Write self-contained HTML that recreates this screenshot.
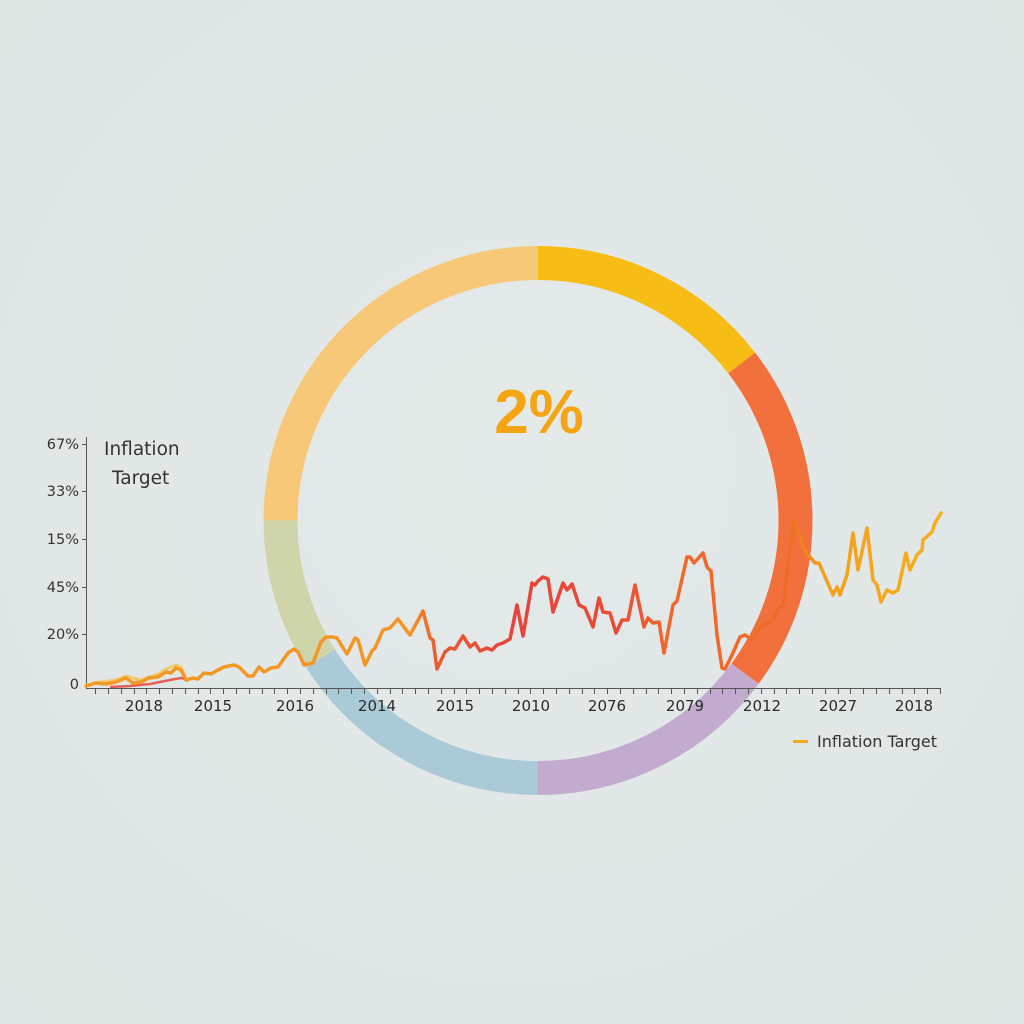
<!DOCTYPE html>
<html><head><meta charset="utf-8"><style>
html,body{margin:0;padding:0;background:#e2e8e7;}
svg{display:block;}
text{font-family:"DejaVu Sans","Liberation Sans",sans-serif;}
</style></head><body>
<svg width="1024" height="1024" viewBox="0 0 1024 1024" xmlns="http://www.w3.org/2000/svg">
<defs>
<radialGradient id="bg" cx="50%" cy="45%" r="75%">
<stop offset="0" stop-color="#e4eae9"/><stop offset="1" stop-color="#dfe5e4"/>
</radialGradient>
<linearGradient id="lg" gradientUnits="userSpaceOnUse" x1="86" y1="0" x2="942" y2="0">
<stop offset="0" stop-color="#f39a26"/>
<stop offset="0.38" stop-color="#f39424"/>
<stop offset="0.41" stop-color="#ea5a30"/>
<stop offset="0.50" stop-color="#e8433a"/>
<stop offset="0.62" stop-color="#e94c36"/>
<stop offset="0.68" stop-color="#f0682c"/>
<stop offset="0.82" stop-color="#f06a26"/>
<stop offset="0.86" stop-color="#f4a01c"/>
<stop offset="1" stop-color="#f6b01a"/>
</linearGradient>
</defs>
<rect width="1024" height="1024" fill="url(#bg)"/>

<!-- ring -->
<g fill="none" stroke-width="34" stroke-linecap="butt">
<path d="M280.5,520.5 A257.5,257.5 0 0 1 538,263" stroke="#f6c878"/>
<path d="M538,263 A257.5,257.5 0 0 1 741.7,363" stroke="#f7bd14"/>
<path d="M741.7,363 A257.5,257.5 0 0 1 745,673.7" stroke="#f2703c"/>
<path d="M745,673.7 A257.5,257.5 0 0 1 538,778" stroke="#c3abcf"/>
<path d="M538,778 A257.5,257.5 0 0 1 320.6,658.5" stroke="#aacad7"/>
<path d="M320.6,658.5 A257.5,257.5 0 0 1 280.5,520.5" stroke="#cfd5ab"/>
</g>

<text x="539" y="433" text-anchor="middle" font-size="62" font-weight="bold" fill="#f5a412" style="font-family:'Liberation Sans',sans-serif">2%</text>

<!-- axes -->
<g stroke="#555" stroke-width="1">
<line x1="86.5" y1="437" x2="86.5" y2="688"/>
<line x1="86" y1="688.5" x2="941" y2="688.5"/>
<line x1="82" y1="444.5" x2="86" y2="444.5"/>
<line x1="82" y1="491.5" x2="86" y2="491.5"/>
<line x1="82" y1="539.5" x2="86" y2="539.5"/>
<line x1="82" y1="587.5" x2="86" y2="587.5"/>
<line x1="82" y1="634.5" x2="86" y2="634.5"/>
</g>
<path fill="none" stroke="#555" stroke-width="1" d="M940.5,688v6M927.5,688v6M914.5,688v6M902.5,688v6M889.5,688v6M876.5,688v6M863.5,688v6M850.5,688v6M838.5,688v6M825.5,688v6M812.5,688v6M799.5,688v6M786.5,688v6M774.5,688v6M761.5,688v6M748.5,688v6M735.5,688v6M722.5,688v6M710.5,688v6M697.5,688v6M684.5,688v6M671.5,688v6M658.5,688v6M646.5,688v6M633.5,688v6M620.5,688v6M607.5,688v6M594.5,688v6M582.5,688v6M569.5,688v6M556.5,688v6M543.5,688v6M530.5,688v6M518.5,688v6M505.5,688v6M492.5,688v6M479.5,688v6M466.5,688v6M454.5,688v6M441.5,688v6M428.5,688v6M415.5,688v6M402.5,688v6M390.5,688v6M377.5,688v6M364.5,688v6M351.5,688v6M338.5,688v6M326.5,688v6M313.5,688v6M300.5,688v6M287.5,688v6M274.5,688v6M262.5,688v6M249.5,688v6M236.5,688v6M223.5,688v6M210.5,688v6M198.5,688v6M185.5,688v6M172.5,688v6M159.5,688v6M146.5,688v6M134.5,688v6M121.5,688v6M108.5,688v6M95.5,688v6"/>

<g font-size="14.5" fill="#333" text-anchor="end">
<text x="79" y="449">67%</text>
<text x="79" y="496">33%</text>
<text x="79" y="544">15%</text>
<text x="79" y="592">45%</text>
<text x="79" y="639">20%</text>
<text x="79" y="689">0</text>
</g>
<text x="104" y="455" font-size="18.5" fill="#333">Inflation</text>
<text x="112" y="484" font-size="18.5" fill="#333">Target</text>

<g font-size="15" fill="#2a2a2a" text-anchor="middle">
<text x="144" y="711">2018</text>
<text x="213" y="711">2015</text>
<text x="295" y="711">2016</text>
<text x="377" y="711">2014</text>
<text x="455" y="711">2015</text>
<text x="531" y="711">2010</text>
<text x="607" y="711">2076</text>
<text x="685" y="711">2079</text>
<text x="762" y="711">2012</text>
<text x="838" y="711">2027</text>
<text x="914" y="711">2018</text>
</g>

<!-- secondary faint lines -->
<polyline fill="none" stroke="#f6c03a" stroke-width="3" stroke-linejoin="round" opacity="0.7"
points="86,685 100,682 116,680 126,676 141,680 158,674 166,669 176,665 181,667 186,678"/>
<polyline fill="none" stroke="#e5483a" stroke-width="2.5" stroke-linejoin="round" opacity="0.85"
points="110,687 130,686 150,684 165,681 175,679 182,678 188,681"/>

<!-- main line -->
<polyline fill="none" stroke="url(#lg)" stroke-width="3.5" stroke-linejoin="round" stroke-linecap="round"
points="86,686 96,683 106,684 116,682 126,678 133,683 141,682 149,678 158,677 166,672 171,673 176,668 181,670 186,680 193,678 198,679 204,673 211,674 218,670 224,667 234,665 239,667 248,676 253,676 259,667 264,672 271,668 278,667 288,653 294,649 298,652 304,665 313,663 321,642 326,637 333,637 337,638 347,654 355,638 358,640 365,665 372,651 375,648 383,630 390,628 398,619 410,635 423,611 430,638 433,640 437,669 445,652 450,648 455,649 463,636 470,647 475,643 480,651 487,648 492,650 497,645 503,643 510,639 517,605 523,636 532,583 535,585 538,581 543,577 548,579 553,612 563,583 567,590 572,584 579,605 585,608 593,627 599,598 603,612 610,613 616,633 622,620 628,620 635,585 644,627 648,618 653,623 659,622 664,653 673,605 677,601 687,557 690,557 694,563 703,553 707,567 711,571 717,635 722,668 725,669 732,655 740,637 745,635 752,640 760,627 767,623 773,621 778,608 783,607 787,573 794,520 798,530 803,548 810,557 815,563 819,563 833,595 837,587 840,595 847,575 853,533 858,570 867,528 873,580 877,585 881,602 887,590 893,593 898,590 906,553 910,570 917,555 922,550 923,540 932,532 935,523 941,513"/>

<!-- legend -->
<line x1="793" y1="741.5" x2="808" y2="741.5" stroke="#f5a81c" stroke-width="3"/>
<text x="817" y="747" font-size="16" fill="#333">Inflation Target</text>
</svg>
</body></html>
